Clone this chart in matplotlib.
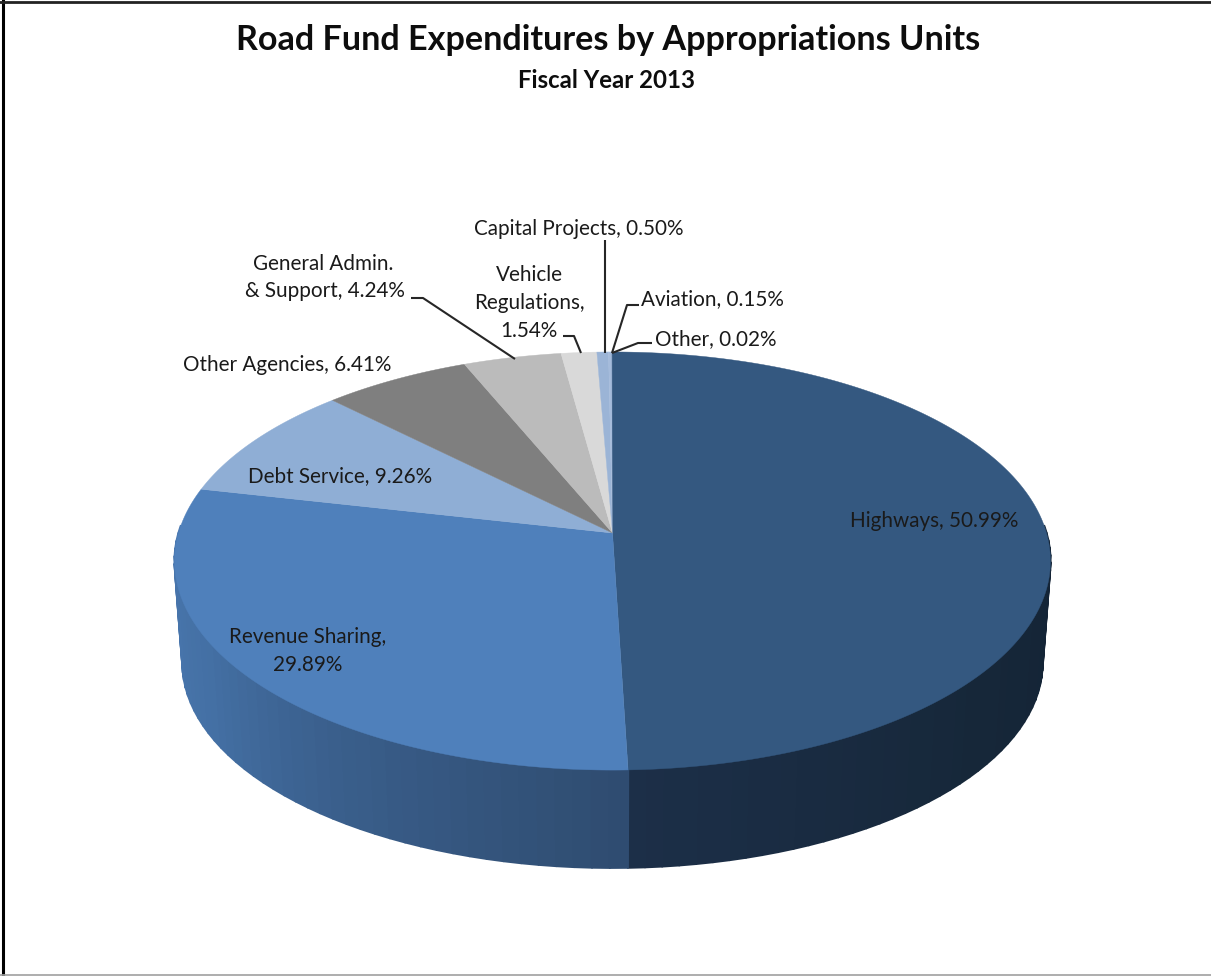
import numpy as np
import matplotlib
matplotlib.use("Agg")
import matplotlib.pyplot as plt
from matplotlib.colors import to_rgb

# Data
categories = ["Highways", "Revenue Sharing", "Debt Service", "Other Agencies",
              "General Admin. & Support", "Vehicle Regulations",
              "Capital Projects", "Aviation", "Other"]
values = [50.99, 29.89, 9.26, 6.41, 4.24, 1.54, 0.50, 0.15, 0.02]
top_colors = ["#345880", "#4f80bb", "#8faed5", "#7f7f7f", "#bbbbbb", "#d9d9d9",
              "#9bb4d6", "#a5bbdb", "#345880"]
title = "Road Fund Expenditures by Appropriations Units"
subtitle = "Fiscal Year 2013"

# Projection of the tilted disc into pixel coordinates
X0, Y0, A, B, K = 612.5, 533.0, 434.0, 205.3, 0.134
X0_B, Y0_B, SCALE_B = 612.5, 635.0, 0.982


def rim(theta_deg, bottom=False):
    t = np.radians(theta_deg)
    u, v = np.sin(t), np.cos(t)
    w = 1 + K * v
    if bottom:
        return X0_B + SCALE_B * A * u / w, Y0_B - SCALE_B * B * v / w
    return X0 + A * u / w, Y0 - B * v / w


def mix(theta, anchors):
    th = [a[0] for a in anchors]
    cols = np.array([to_rgb(a[1]) for a in anchors])
    return tuple(np.interp(theta, th, cols[:, i]) for i in range(3))


shares = np.array(values) / np.sum(values) * 360.0
edges = np.concatenate([[0.0], np.cumsum(shares)])

fig = plt.figure(figsize=(12.11, 9.76), dpi=100)
ax = fig.add_axes([0, 0, 1, 1])
ax.set_xlim(0, 1211)
ax.set_ylim(976, 0)
ax.axis("off")

# Side wall
wall_hi = [(60, "#142436"), (100, "#142436"), (130, "#162739"), (178.5, "#1c2f48")]
wall_rev = [(178.5, "#2f4c70"), (215, "#3a5f8c"), (240, "#4470a4"), (270, "#4a78b0"), (300, "#4a78b0")]
seam = edges[1]
for start, stop, anchors in [(88.0, seam, wall_hi), (272.0, seam, wall_rev)]:
    steps = np.linspace(start, stop, 46)
    for a, b in zip(steps[:-1], steps[1:]):
        xa, ya = rim(a)
        xb, yb = rim(b)
        xc, yc = rim(b, True)
        xd, yd = rim(a, True)
        c = mix((a + b) / 2, anchors)
        ax.fill([xa, xb, xc, xd], [ya, yb, yc, yd], color=c, lw=1.6, zorder=2,
                joinstyle="round")

# Top face
for i, col in enumerate(top_colors):
    th = np.linspace(edges[i], edges[i + 1], max(3, int(shares[i] * 2)))
    xs, ys = rim(th)
    ax.fill(np.r_[X0, xs], np.r_[Y0, ys], color=col, lw=0.3, zorder=3)

# Leader lines
leaders = [
    ([605, 605], [240, 353]),
    ([639, 627, 612], [305, 305, 353]),
    ([652, 638, 612], [343, 343, 353]),
    ([563, 574, 581], [336, 336, 353]),
    ([411, 423, 515], [298, 298, 359]),
]
for xs, ys in leaders:
    ax.plot(xs, ys, color="#262626", lw=1.5, zorder=4, solid_capstyle="butt")

# Labels
FONT = "Lato"
LS = 14.9
TC = "#1a1a1a"


def label(x, y, s, ha="center"):
    ax.text(x, y, s, ha=ha, va="center", fontsize=LS, family=FONT, color=TC, zorder=5)


def pct(i):
    return f"{values[i]:.2f}%"


label(934, 521, f"{categories[0]}, {pct(0)}")
label(308, 637, f"{categories[1]},")
label(308, 665, pct(1))
label(340, 476, f"{categories[2]}, {pct(2)}")
label(287, 365, f"{categories[3]}, {pct(3)}")
label(323, 264, "General Admin.")
label(325, 291, f"& Support, {pct(4)}")
label(529, 275, "Vehicle")
label(529, 303, "Regulations,")
label(529, 331, pct(5))
label(579, 229, f"{categories[6]}, {pct(6)}")
label(641, 299, f"{categories[7]}, {pct(7)}", ha="left")
label(655, 339, f"{categories[8]}, {pct(8)}", ha="left")

ax.text(608, 40, title, ha="center", va="center", fontsize=24.6, family=FONT,
        weight="bold", color="#0d0d0d")
ax.text(607, 80, subtitle, ha="center", va="center", fontsize=17.3, family=FONT,
        weight="bold", color="#0d0d0d")

# Frame
ax.plot([3, 3], [0, 976], color="black", lw=2.2, zorder=6)
ax.plot([0, 1211], [2, 2], color="#222222", lw=2.0, zorder=6)
ax.plot([0, 1211], [975.3, 975.3], color="#a0a0a0", lw=1.2, zorder=6)

fig.savefig("out.png", dpi=100, facecolor="white")
